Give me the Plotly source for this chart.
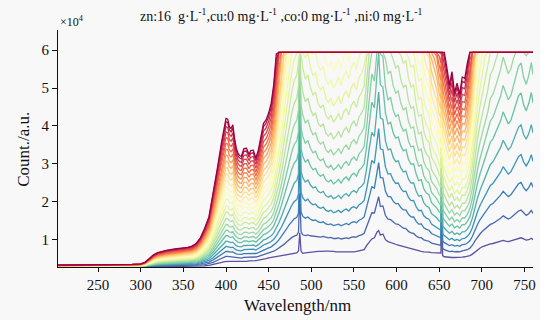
import plotly.graph_objects as go
from plotly.colors import sample_colorscale

# Wavelength grid (nm)
wavelength = [200, 230, 260, 290, 300, 305, 310, 315, 320, 325, 330, 340, 350, 355, 360, 365, 370, 375,
              380, 385, 390, 395, 398, 400, 402, 404, 406, 408, 410, 412, 414, 416, 418, 421, 424, 427,
              429, 432, 435, 438, 441, 444, 447, 450, 453, 456, 459, 462, 465, 468, 471, 474, 477, 480,
              483, 485, 486.5, 488, 490, 493, 496, 499, 502, 505, 508, 511, 514, 517, 520, 523, 526, 529,
              532, 535, 538, 541, 544, 547, 550, 553, 556, 559, 562, 565, 568, 571, 574, 577, 579, 581,
              584, 587, 590, 593, 596, 599, 602, 605, 608, 611, 614, 617, 620, 623, 626, 629, 632, 635,
              638, 641, 644, 647, 650, 652, 653, 654, 656, 659, 662, 665, 668, 671, 674, 677, 680, 683,
              686, 689, 692, 695, 698, 701, 704, 707, 710, 713, 716, 719, 722, 725, 728, 731, 734, 737,
              740, 743, 746, 749, 752, 755, 758, 760]

# Lowest-exposure spectrum (x10^4 counts)
lowest_curve = [0.28, 0.28, 0.28, 0.285, 0.285, 0.285, 0.29, 0.29, 0.29, 0.29, 0.29, 0.295, 0.30, 0.30, 0.30, 0.30, 0.31, 0.31,
                0.32, 0.34, 0.37, 0.40, 0.42, 0.43, 0.43, 0.43, 0.43, 0.43, 0.42, 0.42, 0.42, 0.42, 0.42, 0.43, 0.43, 0.44,
                0.44, 0.45, 0.45, 0.46, 0.47, 0.49, 0.50, 0.52, 0.53, 0.54, 0.55, 0.56, 0.57, 0.58, 0.60, 0.62, 0.63, 0.64,
                0.65, 0.70, 1.18, 0.70, 0.64, 0.65, 0.66, 0.67, 0.68, 0.68, 0.69, 0.69, 0.70, 0.70, 0.70, 0.70, 0.69, 0.68,
                0.68, 0.67, 0.67, 0.67, 0.67, 0.68, 0.68, 0.69, 0.70, 0.71, 0.74, 0.85, 0.95, 1.02, 1.05, 1.20, 1.24, 1.12,
                1.15, 1.00, 0.95, 0.92, 0.90, 0.88, 0.86, 0.84, 0.82, 0.80, 0.77, 0.75, 0.73, 0.71, 0.70, 0.69, 0.68, 0.68,
                0.67, 0.66, 0.66, 0.65, 0.65, 0.65, 1.50, 0.58, 0.55, 0.54, 0.53, 0.53, 0.53, 0.53, 0.53, 0.54, 0.55, 0.56,
                0.58, 0.62, 0.68, 0.73, 0.78, 0.82, 0.85, 0.87, 0.89, 0.90, 0.92, 0.94, 0.96, 0.98, 0.96, 0.95, 0.97, 0.99,
                1.02, 1.04, 1.05, 1.02, 0.99, 1.00, 1.04, 1.00]

# Spread between the highest-exposure and the lowest-exposure spectrum (x10^4 counts, estimated where saturated)
spread = [0.05, 0.05, 0.06, 0.065, 0.075, 0.12, 0.21, 0.31, 0.37, 0.41, 0.43, 0.46, 0.48, 0.50, 0.53, 0.60, 0.74, 0.99,
          1.28, 1.86, 2.53, 3.20, 3.58, 3.77, 3.75, 3.55, 3.50, 3.60, 3.26, 3.00, 2.86, 2.80, 2.78, 2.97, 2.98, 2.81,
          2.91, 2.91, 2.70, 2.91, 3.25, 3.58, 3.66, 3.82, 4.07, 4.56, 5.35, 6.30, 7.40, 8.60, 9.90, 11.2, 12.3, 13.2,
          13.6, 14.5, 30.0, 15.0, 14.2, 13.3, 13.6, 12.6, 12.0, 12.2, 11.3, 11.0, 11.2, 10.4, 10.1, 10.4, 9.9, 10.2,
          10.6, 10.1, 10.7, 11.0, 10.5, 11.2, 11.5, 11.0, 11.8, 12.1, 12.5, 14.5, 17.5, 20.0, 19.0, 23.0, 26.0, 22.0,
          21.5, 18.5, 17.2, 17.6, 16.2, 15.5, 15.8, 14.6, 14.0, 14.3, 13.0, 12.4, 12.6, 11.2, 10.3, 10.5, 9.2, 8.6,
          8.4, 7.3, 6.9, 6.6, 6.0, 5.8, 30.0, 5.6, 5.4, 5.0, 4.55, 4.9, 4.35, 4.6, 4.3, 4.75, 4.7, 5.1,
          5.7, 6.8, 8.4, 9.8, 10.9, 11.8, 12.9, 13.6, 14.9, 15.3, 16.0, 16.8, 17.6, 18.8, 18.0, 17.2, 17.6, 18.6,
          19.8, 20.8, 21.2, 19.6, 18.9, 19.9, 21.3, 20.0]

# Height of each spectrum at the 400 nm peak (x10^4 counts), lowest to highest
peak_400 = [0.43, 0.56, 0.69, 0.82, 0.96, 1.11, 1.25, 1.40, 1.56, 1.73, 1.89, 2.07, 2.24,
            2.40, 2.57, 2.74, 2.90, 3.07, 3.23, 3.39, 3.54, 3.69, 3.84, 3.98, 4.11, 4.20]

saturation = 5.94  # detector ceiling, x10^4 counts

title_text = ("zn:16  g·L<sup>-1</sup>,cu:0 mg·L<sup>-1</sup> ,co:0 mg·L<sup>-1</sup> "
              ",ni:0 mg·L<sup>-1</sup>")
x_ticks = [250, 300, 350, 400, 450, 500, 550, 600, 650, 700, 750]
y_ticks = [1, 2, 3, 4, 5, 6]

n = len(peak_400)
fig = go.Figure()
for k, p in enumerate(peak_400):
    frac = (p - peak_400[0]) / (peak_400[-1] - peak_400[0])
    y = [min(lo + frac * sp, saturation) for lo, sp in zip(lowest_curve, spread)]
    color = sample_colorscale("Spectral", [1 - k / (n - 1)])[0]
    fig.add_trace(go.Scatter(x=wavelength, y=y, mode="lines",
                             line=dict(color=color, width=1.3), showlegend=False,
                             hoverinfo="skip"))

FONT = "Liberation Serif"
BG = "#f8f8f8"
fig.update_layout(
    width=549, height=320,
    margin=dict(l=58, r=16, t=30, b=53),
    paper_bgcolor=BG, plot_bgcolor=BG,
    font=dict(family=FONT, size=15, color="#111"),
    xaxis=dict(range=[203, 760], tickvals=x_ticks, showline=True, linecolor="#111", linewidth=1.2,
               ticks="outside", ticklen=4, tickcolor="#111", showgrid=False, zeroline=False,
               tickfont=dict(family=FONT, size=15, color="#111")),
    yaxis=dict(range=[0.28, 6.53], tickvals=y_ticks, showline=True, linecolor="#111", linewidth=1.2,
               ticks="outside", ticklen=5, tickcolor="#111", showgrid=False, zeroline=False,
               tickfont=dict(family=FONT, size=15, color="#111")),
    shapes=[dict(type="rect", xref="paper", yref="paper", x0=1.015, x1=1.05, y0=-0.3, y1=1.2,
                 fillcolor="white", line=dict(width=0), layer="below")],
    annotations=[
        dict(text=title_text, xref="paper", yref="paper", x=0.469, y=1.063, showarrow=False,
             xanchor="center", yanchor="middle", font=dict(family=FONT, size=14)),
        dict(text="×10<sup>4</sup>", xref="paper", yref="paper", x=0.0, y=1.035, showarrow=False,
             xanchor="left", yanchor="middle", font=dict(family=FONT, size=12)),
        dict(text="Wavelength/nm", xref="paper", yref="paper", x=0.504, y=-0.162, showarrow=False,
             xanchor="center", yanchor="middle", font=dict(family=FONT, size=17)),
        dict(text="Count./a.u.", xref="paper", yref="paper", x=-0.072, y=0.498, showarrow=False,
             xanchor="center", yanchor="middle", textangle=-90, font=dict(family=FONT, size=17)),
    ],
)
fig.write_html("out.html", config={"displayModeBar": False},
               post_script="document.body.style.margin='0';document.body.style.padding='0';")
